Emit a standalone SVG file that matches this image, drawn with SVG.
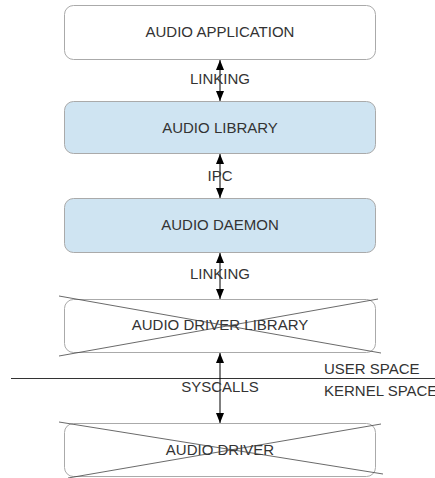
<svg xmlns="http://www.w3.org/2000/svg" width="435" height="478" viewBox="0 0 435 478">
<defs>
<marker id="ah" viewBox="0 0 10 10" refX="10" refY="5" markerWidth="10" markerHeight="8" orient="auto-start-reverse" markerUnits="userSpaceOnUse" preserveAspectRatio="none">
<path d="M0,0 L10,5 L0,10 z" fill="#000"/>
</marker>
<style>
.box{fill:#fff;stroke:#aaa;stroke-width:1}
.blue{fill:#cfe4f2;stroke:#aaa;stroke-width:1}
.t{font-family:"Liberation Sans",Arial,sans-serif;font-size:15px;fill:#333;text-anchor:middle}
.l{font-family:"Liberation Sans",Arial,sans-serif;font-size:15px;fill:#333}
.x{stroke:#444;stroke-width:0.8;fill:none}
.c{stroke:#000;stroke-width:1;fill:none;marker-start:url(#ah);marker-end:url(#ah)}
</style>
</defs>
<rect width="435" height="478" fill="#fff"/>
<g id="app"><rect class="box" x="64.5" y="5.5" width="311" height="54" rx="9"/><text class="t" x="220" y="37">AUDIO APPLICATION</text></g>
<g id="lib"><rect class="blue" x="64.5" y="101.5" width="311" height="52" rx="9"/><text class="t" x="220" y="133">AUDIO LIBRARY</text></g>
<g id="daemon"><rect class="blue" x="64.5" y="198.5" width="311" height="54" rx="9"/><text class="t" x="220" y="230">AUDIO DAEMON</text></g>
<g id="drvlib"><rect class="box" x="64.5" y="299.5" width="311" height="53" rx="9"/><text class="t" x="220" y="330">AUDIO DRIVER LIBRARY</text><line class="x" x1="59" y1="296" x2="381" y2="353"/><line class="x" x1="59" y1="356" x2="378" y2="299"/></g>
<g id="drv"><rect class="box" x="64.5" y="423.5" width="311" height="53" rx="9"/><text class="t" x="220" y="455">AUDIO DRIVER</text><line class="x" x1="59" y1="422" x2="383" y2="474"/><line class="x" x1="68" y1="478" x2="381" y2="424"/></g>
<g id="boundary"><line x1="11" y1="378.5" x2="435" y2="378.5" stroke="#333" stroke-width="1"/><text class="l" x="324" y="374">USER SPACE</text><text class="l" x="324" y="396">KERNEL SPACE</text></g>
<g id="connectors">
<line class="c" x1="220" y1="60" x2="220" y2="101"/>
<text class="t" x="220" y="84">LINKING</text>
<line class="c" x1="220" y1="154" x2="220" y2="198"/>
<text class="t" x="220" y="181">IPC</text>
<line class="c" x1="220" y1="253" x2="220" y2="299"/>
<text class="t" x="220" y="279">LINKING</text>
<line class="c" x1="220" y1="353" x2="220" y2="423"/>
<text class="t" x="220" y="392">SYSCALLS</text>
</g>
</svg>
